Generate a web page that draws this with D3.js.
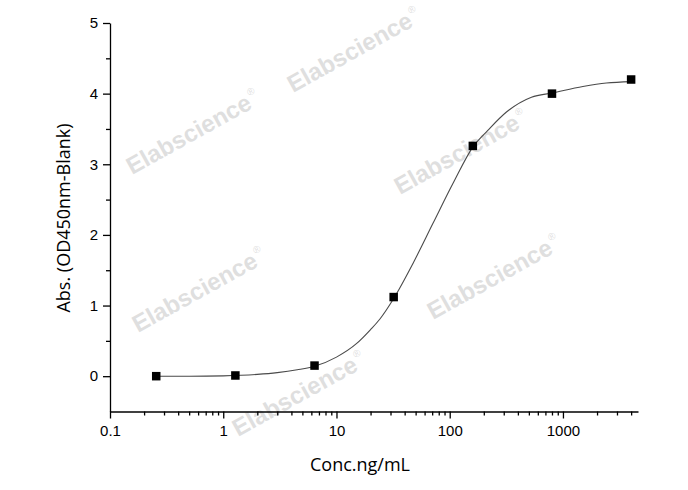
<!DOCTYPE html>
<html>
<head>
<meta charset="utf-8">
<script src="https://cdn.jsdelivr.net/npm/d3@7"></script>
<style>
  body { margin: 0; background: #fff; }
  .axis text { font-family: "Liberation Sans", Arial, sans-serif; font-size: 15px; fill: #000; }
  .axis path, .axis line { stroke: #000; stroke-width: 1.3px; }
  .axis-label { font-family: "Open Sans", sans-serif; font-size: 18px; fill: #000; }
  .wm { font-family: "Liberation Sans", Arial, sans-serif; font-weight: bold; font-size: 24px; fill: #dfdfdf; }
  .wm-r { font-family: "Liberation Sans", Arial, sans-serif; font-size: 10px; fill: #dfdfdf; }
</style>
</head>
<body>
<div id="chart-area"></div>
<script>
// measured points (ng/mL vs OD)
const conc = [0.256, 1.28, 6.4, 32, 160, 800, 4000];
const absorb = [0.00, 0.01, 0.15, 1.12, 3.26, 4.00, 4.20];

// fitted curve
const fitConc = [0.256, 0.5, 1, 2, 3, 4.5, 6.4, 10, 15, 20, 24.2, 32, 47.5, 71, 107, 161, 217, 317, 527, 807, 1500, 2420, 4000];
const fitAbs  = [0.00, 0.00, 0.005, 0.025, 0.05, 0.09, 0.14, 0.27, 0.46, 0.66, 0.81, 1.10, 1.60, 2.16, 2.73, 3.25, 3.48, 3.74, 3.95, 4.01, 4.10, 4.15, 4.17];

const xTicks = [0.1, 1, 10, 100, 1000];
const yTicks = [0, 1, 2, 3, 4, 5];
const yMinor = [0.5, 1.5, 2.5, 3.5, 4.5];
const xMinor = [];
[0.1, 1, 10, 100].forEach(dec => {
  for (let k = 2; k <= 9; k++) xMinor.push(dec * k);
});
xMinor.push(2000, 3000, 4000);

const WIDTH = 688;
const HEIGHT = 490;

const svg = d3.select('#chart-area')
.append('svg')
.attr('width', WIDTH)
.attr('height', HEIGHT);

// watermarks (baseline start, rotated)
const marks = [[293, 93], [132, 175], [400, 195], [138, 333], [433, 320], [238, 437]];
marks.forEach(([mx, my]) => {
  const w = svg.append('g')
  .attr('transform', `translate(${mx},${my}) rotate(-29)`);
  const t = w.append('text').attr('class', 'wm').attr('x', 0).attr('y', 0).text('Elabscience');
  const len = t.node().getComputedTextLength();
  w.append('text').attr('class', 'wm-r').attr('x', len + 2).attr('y', -12).text('®');
});

const x = d3.scaleLog()
.domain([0.1, 4600])
.range([110, 638]);

const y = d3.scaleLinear()
.domain([-0.5, 5])
.range([411.5, 23]);

// y axis
svg.append('g')
.attr('class', 'axis')
.attr('transform', 'translate(110,0)')
.call(d3.axisLeft(y).tickValues(yTicks).tickSize(7).tickSizeOuter(0).tickPadding(5).tickFormat(d3.format('d')));
svg.append('g')
.attr('class', 'axis')
.attr('transform', 'translate(110,0)')
.call(d3.axisLeft(y).tickValues(yMinor).tickSize(4).tickSizeOuter(0).tickFormat(''))
.select('.domain').remove();

// x axis
svg.append('g')
.attr('class', 'axis')
.attr('transform', 'translate(0,411.5)')
.call(d3.axisBottom(x).tickValues(xTicks).tickSize(7).tickSizeOuter(0).tickPadding(7).tickFormat(d => String(d)));
svg.append('g')
.attr('class', 'axis')
.attr('transform', 'translate(0,411.5)')
.call(d3.axisBottom(x).tickValues(xMinor).tickSize(4).tickSizeOuter(0).tickFormat(''))
.select('.domain').remove();

svg.append('text')
.attr('class', 'axis-label')
.attr('x', 360)
.attr('y', 471)
.attr('text-anchor', 'middle')
.text('Conc.ng/mL');

svg.append('text')
.attr('class', 'axis-label')
.attr('x', -218)
.attr('y', 70)
.attr('text-anchor', 'middle')
.attr('transform', 'rotate(-90)')
.text('Abs. (OD450nm-Blank)');

// fit curve
const fit = fitConc.map((c, i) => ({ c: c, a: fitAbs[i] }));
const line = d3.line()
.x(d => x(d.c))
.y(d => y(d.a))
.curve(d3.curveMonotoneX);

svg.append('path')
.datum(fit)
.attr('d', line)
.attr('fill', 'none')
.attr('stroke', '#4a4a4a')
.attr('stroke-width', 1.1);

// points
const pts = conc.map((c, i) => ({ c: c, a: absorb[i] }));
svg.selectAll('rect.pt')
.data(pts)
.enter().append('rect')
.attr('class', 'pt')
.attr('x', d => x(d.c) - 4.25)
.attr('y', d => y(d.a) - 4.25)
.attr('width', 8.5)
.attr('height', 8.5)
.attr('fill', '#000');
</script>
</body>
</html>
